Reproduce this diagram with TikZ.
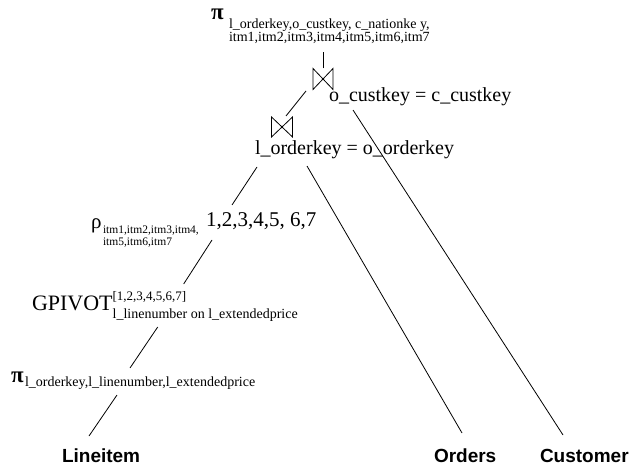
\documentclass[tikz,border=0pt]{standalone}
\usepackage{fontspec}
\setmainfont{Liberation Serif}
\newfontfamily\relfont{Liberation Sans}
\begin{document}
\begin{tikzpicture}[x=1bp,y=-1bp,
  txt/.style={anchor=base west,inner sep=0pt,outer sep=0pt},
  big/.style={txt,font=\fontsize{20bp}{24bp}\selectfont},
  greek/.style={txt,font=\bfseries\fontsize{23bp}{26bp}\selectfont},
  sub/.style={txt,font=\fontsize{14bp}{16bp}\selectfont},
  stack/.style={anchor=north west,inner sep=0pt,outer sep=0pt,align=left},
  rel/.style={txt,font=\relfont\bfseries\fontsize{19bp}{22bp}\selectfont},
  joinop/.style={minimum width=20bp,minimum height=21bp,inner sep=0pt,outer sep=0pt},
  edge/.style={line width=0.8bp,black}]
\useasboundingbox (0,0) rectangle (631,471);

% final projection
\node[greek] (pi1) at (211,20) {π};
\node[stack,font=\fontsize{14bp}{13bp}\selectfont] (pi1s) at (229,18.5)
  {l\_orderkey,o\_custkey, c\_nationke y,\\itm1,itm2,itm3,itm4,itm5,itm6,itm7};

% join with customer
\node[joinop] (j1) at (323,79) {};
\draw[edge] (j1.north west) -- (j1.south west) -- (j1.north east) -- (j1.south east) -- cycle;
\node[big] (j1lab) at (329,102) {o\_custkey = c\_custkey};

% join with orders
\node[joinop,minimum width=21bp,minimum height=20bp] (j2) at (282,127) {};
\draw[edge] (j2.north west) -- (j2.south west) -- (j2.north east) -- (j2.south east) -- cycle;
\node[big] (j2lab) at (255,155) {l\_orderkey = o\_orderkey};

% rename
\node[txt,font=\fontsize{21bp}{24bp}\selectfont] (rho) at (91,229) {ρ};
\node[stack,font=\fontsize{11.5bp}{11.5bp}\selectfont] (rhos) at (103,226)
  {itm1,itm2,itm3,itm4,\\itm5,itm6,itm7};
\node[big,font=\fontsize{21bp}{24bp}\selectfont] (rhon) at (206,227) {1,2,3,4,5, 6,7};

% pivot
\node[big,font=\fontsize{22bp}{24bp}\selectfont] (gp) at (32,311) {GPIVOT};
\node[txt,font=\fontsize{13bp}{15bp}\selectfont] (gpsup) at (gp.base east) [yshift=10bp] {[1,2,3,4,5,6,7]};
\node[sub] (gpsub) at (gp.base east) [yshift=-7bp] {l\_linenumber on l\_extendedprice};

% base projection
\node[greek] (pi2) at (11,382) {π};
\node[sub] (pi2s) at (25,386) {l\_orderkey,l\_linenumber,l\_extendedprice};

% relations
\node[rel] (li) at (62,462) {Lineitem};
\node[rel] (ord) at (434,462) {Orders};
\node[rel] (cus) at (540,462) {Customer};

% connectors
\draw[edge] (j1.north) -- ([shift={(0,9)}]j1.north |- pi1s.south);
\draw[edge] ([shift={(-17,12)}]j1.center) -- ([shift={(4,-11)}]j2.center);
\draw[edge] ([shift={(24,8)}]j1lab.base west) -- ([shift={(23,-27)}]cus.base west);
\draw[edge] ([shift={(52,11)}]j2lab.base west) -- ([shift={(28,-29)}]ord.base west);
\draw[edge] ([shift={(2,12)}]j2lab.base west) -- ([shift={(26,-22)}]rhon.base west);
\draw[edge] ([shift={(6,13)}]rhon.base west) -- ([shift={(71,-17)}]gpsup.base west);
\draw[edge] ([shift={(-140,9)}]gpsub.base east) -- ([shift={(105,-18)}]pi2s.base west);
\draw[edge] ([shift={(92,9)}]pi2s.base west) -- ([shift={(27,-26)}]li.base west);
\end{tikzpicture}
\end{document}
